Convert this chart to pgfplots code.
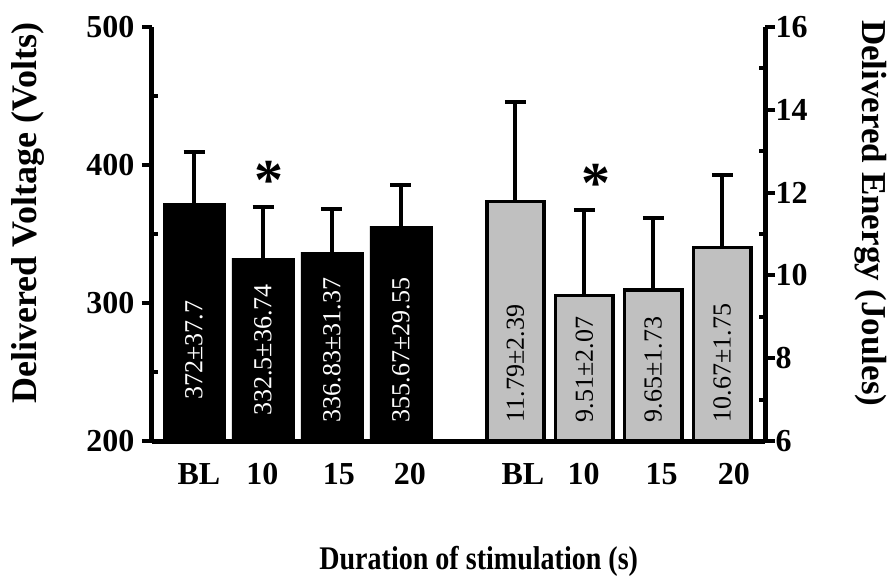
\documentclass[border=0pt]{standalone}
\usepackage{pgfplots}
\pgfplotsset{compat=1.18}
\usepackage{pgfplotstable}
\usepackage{fontspec}
\setmainfont{Liberation Serif}
\newfontfamily\condserif{Liberation Serif}[FakeStretch=0.85]
\definecolor{bargray}{RGB}{192,192,192}

\pgfplotstableread{
x y e ly lab
0 372 37.7 266 372±37.7
1 332.5 36.74 266 332.5±36.74
2 336.83 31.37 266 336.83±31.37
3 355.67 29.55 266 355.67±29.55
}\volt

\pgfplotstableread{
x y e ly lab
4.66 11.79 2.39 6.45 11.79±2.39
5.66 9.51 2.07 6.45 9.51±2.07
6.66 9.65 1.73 6.45 9.65±1.73
7.66 10.67 1.75 6.45 10.67±1.75
}\energy

\pgfplotsset{
  common/.style={
    scale only axis, width=613pt, height=414pt,
    xmin=-0.61, xmax=8.28,
    axis line style={-, line width=5pt, black},
    tick align=outside, major tick length=10pt,
    every tick/.style={black, line width=4pt},
    /pgf/number format/assume math mode=true,
    tick label style={font=\rmfamily\bfseries\fontsize{32}{32}\selectfont},
  },
  errstyle/.style={
    error bars/.cd, y dir=plus, y explicit,
    error bar style={line width=4pt, black},
    error mark options={rotate=90, line width=4pt, mark size=10.5pt, black},
  },
}

\begin{document}
\begin{tikzpicture}
\useasboundingbox (-152pt,-135pt) rectangle (739pt,441pt);
\begin{axis}[common,
  ymin=200, ymax=500,
  axis x line*=bottom, axis y line*=left,
  ytick={200,300,400,500},
  yticklabel style={xshift=-4pt},
  extra y ticks={250,350,450}, extra y tick labels={},
  extra y tick style={tick align=inside, major tick length=6pt},
  xtick={0.07,0.99,2.10,3.13,4.77,5.65,6.78,7.83},
  xticklabels={BL,10,15,20,BL,10,15,20},
  x tick style={draw=none},
  xticklabel style={yshift=-9pt},
  every axis y label/.style={at={(axis description cs:-0.202,0.55)}, rotate=90, anchor=center,
    font=\rmfamily\bfseries\fontsize{36}{36}\selectfont},
  every axis x label/.style={at={(axis description cs:0.533,-0.29)}, anchor=center,
    font=\condserif\bfseries\fontsize{33}{33}\selectfont},
  ylabel={Delivered Voltage (Volts)},
  xlabel={Duration of stimulation (s)},
]
\addplot[ybar, bar shift=0pt, bar width=0.9, fill=black, draw=black, errstyle]
  table[x=x, y=y, y error=e] {\volt};
\addplot[draw=none, mark=none, nodes near coords={\pgfplotspointmeta}, point meta=explicit symbolic,
  every node near coord/.append style={rotate=90, anchor=center, text=white,
    font=\rmfamily\mdseries\fontsize{26}{26}\selectfont}]
  table[x=x, y=ly, meta=lab] {\volt};
\addplot[draw=none, mark=none, nodes near coords={\pgfplotspointmeta}, point meta=explicit symbolic,
  every node near coord/.append style={anchor=center, text=black,
    font=\rmfamily\bfseries\fontsize{58}{58}\selectfont}]
  coordinates {(1.08,389) [*]};
\end{axis}
\begin{axis}[common,
  ymin=6, ymax=16,
  hide x axis, axis y line*=right,
  ytick={6,8,10,12,14,16},
  yticklabel style={xshift=-3pt},
  extra y ticks={7,9,11,13,15}, extra y tick labels={},
  extra y tick style={tick align=inside, major tick length=6pt},
  every axis y label/.style={at={(axis description cs:1.172,0.55)}, rotate=-90, anchor=center,
    font=\rmfamily\bfseries\fontsize{35}{35}\selectfont},
  ylabel={Delivered Energy (Joules)},
]
\addplot[ybar, bar shift=0pt, bar width=0.83, fill=bargray, draw=black, line width=3.5pt, errstyle]
  table[x=x, y=y, y error=e] {\energy};
\addplot[draw=none, mark=none, nodes near coords={\pgfplotspointmeta}, point meta=explicit symbolic,
  every node near coord/.append style={rotate=90, anchor=west, inner sep=0pt, text=black,
    font=\rmfamily\mdseries\fontsize{26}{26}\selectfont}]
  table[x=x, y=ly, meta=lab] {\energy};
\addplot[draw=none, mark=none, nodes near coords={\pgfplotspointmeta}, point meta=explicit symbolic,
  every node near coord/.append style={anchor=center, text=black,
    font=\rmfamily\bfseries\fontsize{58}{58}\selectfont}]
  coordinates {(5.83,12.22) [*]};
\end{axis}
\end{tikzpicture}
\end{document}
